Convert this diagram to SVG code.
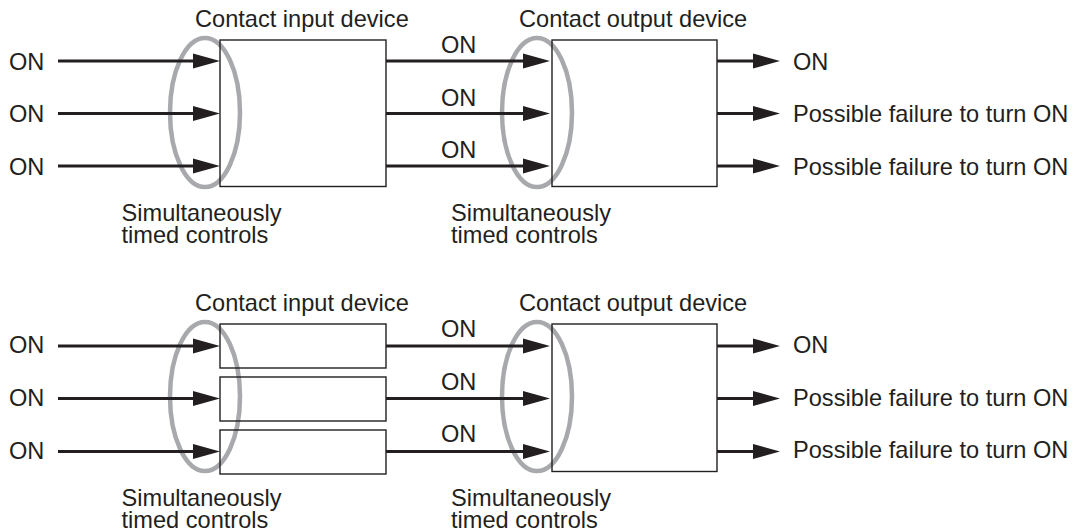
<svg xmlns="http://www.w3.org/2000/svg" width="1078" height="532" viewBox="0 0 1078 532">
<style>
text{font-family:"Liberation Sans",Arial,sans-serif;font-size:23.6px;fill:#231f20}
.box{fill:none;stroke:#231f20;stroke-width:1.4}
.ell{fill:none;stroke:#a7a9ac;stroke-width:4.5}
.ln{stroke:#231f20;stroke-width:3;fill:none;marker-end:url(#ah)}
</style>
<defs>
<marker id="ah" markerUnits="userSpaceOnUse" orient="auto" refX="0" refY="0" markerWidth="40" markerHeight="20" overflow="visible">
<path d="M-7,-7.5 L20,0 L-7,7.5 Z" fill="#231f20"/>
</marker>
</defs>
<g id="ellipses">
<ellipse class="ell" cx="205" cy="112.5" rx="35" ry="74.5"/>
<ellipse class="ell" cx="537" cy="112.5" rx="35" ry="74.5"/>
<ellipse class="ell" cx="205" cy="396.5" rx="35" ry="74.5"/>
<ellipse class="ell" cx="537" cy="396.5" rx="35" ry="74.5"/>
</g>
<g id="top-input"><rect class="box" x="220" y="40" width="166" height="146.5"/><text x="195" y="27">Contact input device</text></g>
<g id="top-output"><rect class="box" x="552" y="40" width="165" height="146.5"/><text x="519" y="27">Contact output device</text></g>
<g id="bot-input-1"><rect class="box" x="220" y="324" width="166" height="44"/><text x="195" y="311">Contact input device</text></g>
<g id="bot-input-2"><rect class="box" x="220" y="377" width="166" height="44"/></g>
<g id="bot-input-3"><rect class="box" x="220" y="430" width="166" height="44"/></g>
<g id="bot-output"><rect class="box" x="552" y="324" width="165" height="147.5"/><text x="519" y="311">Contact output device</text></g>
<g id="connectors">
<path class="ln" d="M58,61H200"/>
<path class="ln" d="M58,113.5H200"/>
<path class="ln" d="M58,166H200"/>
<path class="ln" d="M386,61H530"/>
<path class="ln" d="M386,113.5H530"/>
<path class="ln" d="M386,166H530"/>
<path class="ln" d="M717,61H760"/>
<path class="ln" d="M717,113.5H760"/>
<path class="ln" d="M717,166H760"/>
<path class="ln" d="M58,346H200"/>
<path class="ln" d="M58,398.5H200"/>
<path class="ln" d="M58,451.5H200"/>
<path class="ln" d="M386,346H530"/>
<path class="ln" d="M386,398.5H530"/>
<path class="ln" d="M386,451.5H530"/>
<path class="ln" d="M717,346H760"/>
<path class="ln" d="M717,398.5H760"/>
<path class="ln" d="M717,451.5H760"/>
</g>
<g id="labels">
<text x="9" y="69.5">ON</text>
<text x="9" y="122">ON</text>
<text x="9" y="174.5">ON</text>
<text x="441" y="53">ON</text>
<text x="441" y="106">ON</text>
<text x="441" y="158">ON</text>
<text x="793" y="69.5">ON</text>
<text x="793" y="122">Possible failure to turn ON</text>
<text x="793" y="174.5">Possible failure to turn ON</text>
<text x="121.5" y="220.5">Simultaneously<tspan x="121.5" dy="22.5">timed controls</tspan></text>
<text x="451" y="220.5">Simultaneously<tspan x="451" dy="22.5">timed controls</tspan></text>
<text x="9" y="353">ON</text>
<text x="9" y="405.5">ON</text>
<text x="9" y="458.5">ON</text>
<text x="441" y="337">ON</text>
<text x="441" y="389.5">ON</text>
<text x="441" y="442">ON</text>
<text x="793" y="353">ON</text>
<text x="793" y="405.5">Possible failure to turn ON</text>
<text x="793" y="458">Possible failure to turn ON</text>
<text x="121.5" y="505.5">Simultaneously<tspan x="121.5" dy="22.5">timed controls</tspan></text>
<text x="451" y="505.5">Simultaneously<tspan x="451" dy="22.5">timed controls</tspan></text>
</g>
</svg>
